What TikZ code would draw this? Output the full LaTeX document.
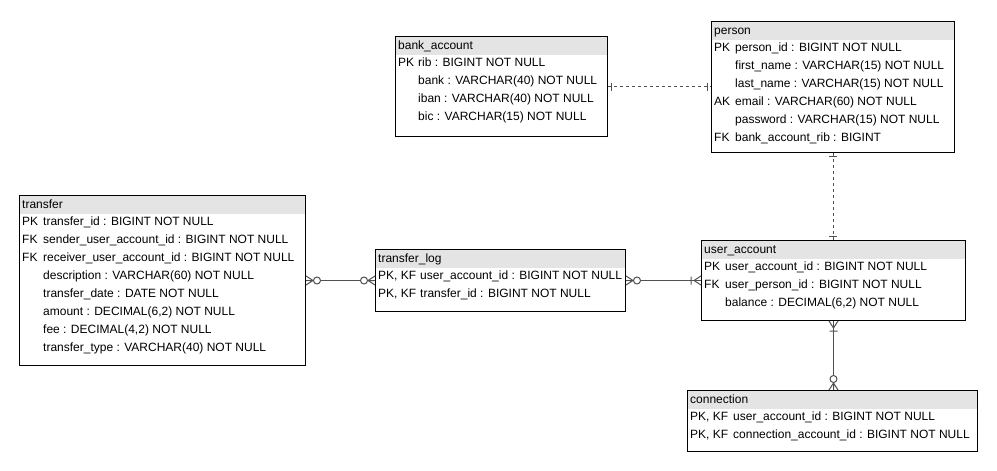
\documentclass[tikz,border=0pt]{standalone}
\usepackage{fontspec}
\setmainfont{Liberation Sans}
\usepackage{tikz}
\usepackage{xcolor}
\usetikzlibrary{arrows.meta}

\definecolor{headgray}{HTML}{E4E4E4}
\definecolor{linkgray}{HTML}{505050}

% crow's foot ends
\pgfdeclarearrow{
	name=erOne,
	setup code={\pgfarrowssettipend{0pt}\pgfarrowssetbackend{-4pt}\pgfarrowssetlineend{0pt}},
	drawing code={
		\pgfsetdash{}{0pt}
		\pgfpathmoveto{\pgfpoint{-3.5pt}{-4pt}}\pgfpathlineto{\pgfpoint{-3.5pt}{4pt}}
		\pgfusepathqstroke
	}
}
\pgfdeclarearrow{
	name=erOneMany,
	setup code={\pgfarrowssettipend{0pt}\pgfarrowssetbackend{-10pt}\pgfarrowssetlineend{0pt}},
	drawing code={
		\pgfsetdash{}{0pt}
		\pgfpathmoveto{\pgfpoint{0pt}{4.5pt}}\pgfpathlineto{\pgfpoint{-7pt}{0pt}}\pgfpathlineto{\pgfpoint{0pt}{-4.5pt}}
		\pgfpathmoveto{\pgfpoint{-10pt}{-4pt}}\pgfpathlineto{\pgfpoint{-10pt}{4pt}}
		\pgfusepathqstroke
	}
}
\pgfdeclarearrow{
	name=erZeroMany,
	setup code={\pgfarrowssettipend{0pt}\pgfarrowssetbackend{-15pt}\pgfarrowssetlineend{-14.5pt}},
	drawing code={
		\pgfsetdash{}{0pt}
		\pgfpathmoveto{\pgfpoint{0pt}{4.5pt}}\pgfpathlineto{\pgfpoint{-7pt}{0pt}}\pgfpathlineto{\pgfpoint{0pt}{-4.5pt}}
		\pgfpathmoveto{\pgfpoint{0pt}{0pt}}\pgfpathlineto{\pgfpoint{-7.5pt}{0pt}}
		\pgfusepathqstroke
		\pgfsetfillcolor{white}
		\pgfpathcircle{\pgfpoint{-11pt}{0pt}}{3.5pt}
		\pgfusepathqfillstroke
	}
}

\tikzset{
	erbox/.style={draw=black, fill=white, line width=1pt, anchor=north west, inner sep=0pt,
		path picture={\fill[headgray] (path picture bounding box.north west) rectangle ([yshift=-18pt]path picture bounding box.north east);}},
	rowtext/.style={anchor=west, inner sep=0pt, text height=9pt, text depth=3pt,
		font=\fontsize{12}{14}\selectfont},
	link/.style={draw=linkgray, line width=1pt},
	idlink/.style={link, dash pattern=on 3pt off 3pt},
}

\begin{document}
\begin{tikzpicture}[x=1pt, y=-1pt]
	\useasboundingbox (0,0) rectangle (997,471);

	% tables
	\node[erbox, minimum width=212pt, minimum height=100pt] (bank_account) at (395,36) {};
	\node[erbox, minimum width=243pt, minimum height=131pt] (person) at (711,21) {};
	\node[erbox, minimum width=286pt, minimum height=170pt] (transfer) at (19,195) {};
	\node[erbox, minimum width=250pt, minimum height=62pt] (transfer_log) at (375,249) {};
	\node[erbox, minimum width=264pt, minimum height=80pt] (user_account) at (701,240) {};
	\node[erbox, minimum width=290pt, minimum height=61pt] (connection) at (687,390) {};

	\node[rowtext] at ([shift={(3,10.5)}]bank_account.north west) {bank\_account};
	\foreach \k/\a [count=\i] in {PK/rib : BIGINT NOT NULL, {}/{bank : VARCHAR(40) NOT NULL},
		{}/{iban : VARCHAR(40) NOT NULL}, {}/{bic : VARCHAR(15) NOT NULL}}
	{
		\node[rowtext] at ([shift={(3,18*\i+9.5)}]bank_account.north west) {\k};
		\node[rowtext] at ([shift={(23,18*\i+9.5)}]bank_account.north west) {\a};
	}

	\node[rowtext] at ([shift={(3,10.5)}]person.north west) {person};
	\foreach \k/\a [count=\i] in {PK/person\_id : BIGINT NOT NULL, {}/{first\_name : VARCHAR(15) NOT NULL},
		{}/{last\_name : VARCHAR(15) NOT NULL}, AK/{email : VARCHAR(60) NOT NULL},
		{}/{password : VARCHAR(15) NOT NULL}, FK/bank\_account\_rib : BIGINT}
	{
		\node[rowtext] at ([shift={(3,18*\i+9.5)}]person.north west) {\k};
		\node[rowtext] at ([shift={(24,18*\i+9.5)}]person.north west) {\a};
	}

	\node[rowtext] at ([shift={(3,10.5)}]transfer.north west) {transfer};
	\foreach \k/\a [count=\i] in {PK/transfer\_id : BIGINT NOT NULL,
		FK/sender\_user\_account\_id : BIGINT NOT NULL, FK/receiver\_user\_account\_id : BIGINT NOT NULL,
		{}/{description : VARCHAR(60) NOT NULL}, {}/{transfer\_date : DATE NOT NULL},
		{}/{amount : DECIMAL(6,2) NOT NULL}, {}/{fee : DECIMAL(4,2) NOT NULL},
		{}/{transfer\_type : VARCHAR(40) NOT NULL}}
	{
		\node[rowtext] at ([shift={(3,18*\i+9.5)}]transfer.north west) {\k};
		\node[rowtext] at ([shift={(24,18*\i+9.5)}]transfer.north west) {\a};
	}

	\node[rowtext] at ([shift={(3,10.5)}]transfer_log.north west) {transfer\_log};
	\foreach \k/\a [count=\i] in {{PK, KF}/user\_account\_id : BIGINT NOT NULL,
		{PK, KF}/transfer\_id : BIGINT NOT NULL}
	{
		\node[rowtext] at ([shift={(3,18*\i+9.5)}]transfer_log.north west) {\k};
		\node[rowtext] at ([shift={(45,18*\i+9.5)}]transfer_log.north west) {\a};
	}

	\node[rowtext] at ([shift={(3,10.5)}]user_account.north west) {user\_account};
	\foreach \k/\a [count=\i] in {PK/user\_account\_id : BIGINT NOT NULL,
		FK/user\_person\_id : BIGINT NOT NULL, {}/{balance : DECIMAL(6,2) NOT NULL}}
	{
		\node[rowtext] at ([shift={(3,18*\i+9.5)}]user_account.north west) {\k};
		\node[rowtext] at ([shift={(24,18*\i+9.5)}]user_account.north west) {\a};
	}

	\node[rowtext] at ([shift={(3,10.5)}]connection.north west) {connection};
	\foreach \k/\a [count=\i] in {{PK, KF}/user\_account\_id : BIGINT NOT NULL,
		{PK, KF}/connection\_account\_id : BIGINT NOT NULL}
	{
		\node[rowtext] at ([shift={(3,18*\i+9.5)}]connection.north west) {\k};
		\node[rowtext] at ([shift={(46,18*\i+9.5)}]connection.north west) {\a};
	}

	% relations
	\draw[idlink, {erOne}-{erOne}] (bank_account.east) -- (bank_account.east -| person.west);
	\draw[idlink, {erOne}-{erOne}] (person.south) -- (person.south |- user_account.north);
	\draw[link, {erZeroMany}-{erZeroMany}] (transfer.east) -- (transfer_log.west);
	\draw[link, {erZeroMany}-{erOneMany}] (transfer_log.east) -- (transfer_log.east -| user_account.west);
	\draw[link, {erOneMany}-{erZeroMany}] (user_account.south) -- (user_account.south |- connection.north);
\end{tikzpicture}
\end{document}
